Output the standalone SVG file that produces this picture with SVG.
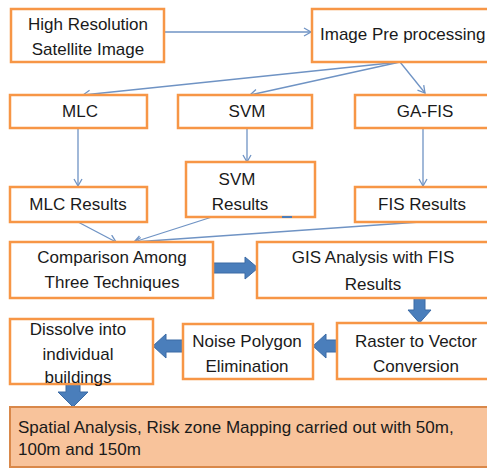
<svg xmlns="http://www.w3.org/2000/svg" width="487" height="468" viewBox="0 0 487 468">
<style>
.box{fill:#fff;stroke:#f79646;stroke-width:2.5}
.t{font-family:"Liberation Sans",Arial,sans-serif;font-size:17px;fill:#1a1a1a;text-anchor:middle}
.tl{font-family:"Liberation Sans",Arial,sans-serif;font-size:17px;fill:#1a1a1a}
.c{fill:none;stroke:#6f93c4;stroke-width:1.3}
.blk{fill:#4a7ebb;stroke:#3a6aa5;stroke-width:1}
</style>
<defs>
<marker id="a" markerWidth="10" markerHeight="10" refX="8" refY="5" orient="auto" markerUnits="userSpaceOnUse">
<polyline points="1,1 8,5 1,9" fill="none" stroke="#6f93c4" stroke-width="1.3"/>
</marker>
</defs>
<rect width="487" height="468" fill="#fff"/>
<g id="connectors">
<line class="c" x1="165" y1="32" x2="311" y2="32" marker-end="url(#a)"/>
<line class="c" x1="400" y1="62" x2="83" y2="95" marker-end="url(#a)"/>
<line class="c" x1="400" y1="62" x2="250" y2="95" marker-end="url(#a)"/>
<line class="c" x1="400" y1="62" x2="425" y2="93" marker-end="url(#a)"/>
<line class="c" x1="78" y1="128" x2="78" y2="186" marker-end="url(#a)"/>
<line class="c" x1="247" y1="128" x2="247" y2="162" marker-end="url(#a)"/>
<line class="c" x1="423" y1="128" x2="423" y2="186" marker-end="url(#a)"/>
<line class="c" x1="78" y1="222" x2="116" y2="242" marker-end="url(#a)"/>
<line class="c" x1="212" y1="217" x2="134" y2="242" stroke="#9ac4dc" marker-end="url(#a)"/>
<line class="c" x1="420" y1="222" x2="134" y2="242" marker-end="url(#a)"/>
<polygon class="blk" points="213,263 245,263 245,257 258,268 245,279 245,273 213,273"/>
<polygon class="blk" points="414,298 425,298 425,310 431,310 419.5,323 408,310 414,310"/>
<polygon class="blk" points="337,340 326,340 326,334 313,346 326,358 326,352 337,352"/>
<polygon class="blk" points="183,340 166,340 166,334 153,346 166,358 166,352 183,352"/>
<polygon class="blk" points="66,384 80,384 80,392 88,392 73,407 58,392 66,392"/>
</g>
<g id="n1"><rect class="box" x="11" y="9" width="153" height="53"/>
<text class="t" x="88" y="30">High Resolution</text><text class="t" x="88" y="55">Satellite Image</text></g>
<g id="n2"><rect class="box" x="312" y="9" width="180" height="53"/>
<text class="tl" x="320" y="40">Image Pre processing</text></g>
<g id="n3"><rect class="box" x="10" y="95" width="137" height="33"/><text class="t" x="80" y="117">MLC</text></g>
<g id="n4"><rect class="box" x="178" y="95" width="134" height="33"/><text class="t" x="247" y="117">SVM</text></g>
<g id="n5"><rect class="box" x="355" y="95" width="137" height="33"/><text class="t" x="425" y="117">GA-FIS</text></g>
<g id="n6"><rect class="box" x="10" y="187" width="137" height="35"/><text class="t" x="78" y="210">MLC Results</text></g>
<g id="n7"><rect class="box" x="186" y="162" width="129" height="55" stroke-width="2"/>
<line x1="282" y1="217" x2="292" y2="217" stroke="#4a7ebb" stroke-width="2"/>
<text class="t" x="237" y="185">SVM</text><text class="t" x="240" y="210">Results</text></g>
<g id="n8"><rect class="box" x="355" y="187" width="137" height="35"/><text class="t" x="422" y="210">FIS Results</text></g>
<g id="n9"><rect class="box" x="10" y="242" width="203" height="56"/>
<text class="t" x="112" y="263">Comparison Among</text><text class="t" x="112" y="288">Three Techniques</text></g>
<g id="n10"><rect class="box" x="257" y="242" width="235" height="56"/>
<text class="t" x="373" y="263">GIS Analysis with FIS</text><text class="t" x="373" y="290">Results</text></g>
<g id="n11"><rect class="box" x="337" y="323" width="155" height="56"/>
<text class="t" x="416" y="347">Raster to Vector</text><text class="t" x="416" y="372">Conversion</text></g>
<g id="n12"><rect class="box" x="183" y="324" width="130" height="55"/>
<text class="t" x="247" y="347">Noise Polygon</text><text class="t" x="247" y="372">Elimination</text></g>
<g id="n13"><rect class="box" x="10" y="319" width="143" height="65"/>
<text class="t" x="78" y="335">Dissolve into</text><text class="t" x="78" y="360">individual</text><text class="t" x="78" y="383">buildings</text></g>
<g id="n14"><rect x="10" y="407" width="482" height="60" fill="#f8c39b" stroke="#d9884a" stroke-width="2"/>
<text class="tl" x="18" y="433">Spatial Analysis, Risk zone Mapping carried out with 50m,</text>
<text class="tl" x="18" y="455">100m and 150m</text></g>
</svg>
